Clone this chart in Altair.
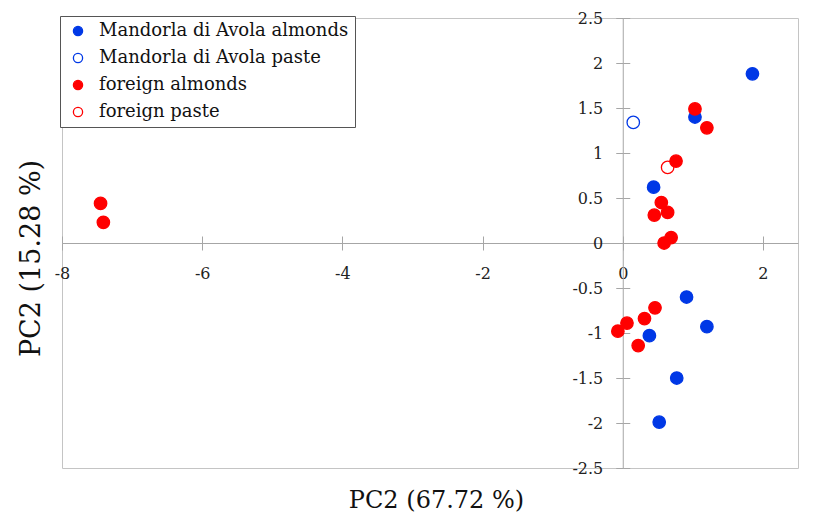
import altair as alt
import pandas as pd

groups = ["Mandorla di Avola almonds", "Mandorla di Avola paste", "foreign almonds", "foreign paste"]

# PC scores
ma_x = [1.85, 1.03, 0.44, 0.91, 1.20, 0.38, 0.77, 0.52]
ma_y = [1.88, 1.40, 0.62, -0.60, -0.93, -1.03, -1.50, -1.99]
mp_x = [0.15]
mp_y = [1.34]
fa_x = [1.03, 1.20, 0.76, 0.55, 0.45, 0.64, 0.59, 0.69, 0.46, 0.31, 0.06, -0.07, 0.22, -7.45, -7.41]
fa_y = [1.49, 1.28, 0.91, 0.45, 0.31, 0.34, 0.00, 0.06, -0.72, -0.84, -0.89, -0.98, -1.14, 0.44, 0.23]
fp_x = [0.64]
fp_y = [0.84]

x_ticks = [-8, -6, -4, -2, 0, 2]
y_ticks = [-2.5, -2, -1.5, -1, -0.5, 0, 0.5, 1, 1.5, 2, 2.5]

rows = []
for g, xs, ys in [(groups[1], mp_x, mp_y), (groups[3], fp_x, fp_y),
                  (groups[0], ma_x, ma_y), (groups[2], fa_x, fa_y)]:
    for x, y in zip(xs, ys):
        rows.append({"group": g, "pc1": x, "pc2": y})
df = pd.DataFrame(rows)

BLUE, RED = "#0038e6", "#ff0000"
AX = "#a6a6a6"
FONT = "DejaVu Serif"
W, H = 736, 450
XMIN, XMAX = -8, 2.5
x0 = (0 - XMIN) / (XMAX - XMIN) * W
LABEL = "'' + datum.value"

xscale = alt.Scale(domain=[XMIN, XMAX], nice=False, zero=False)
yscale = alt.Scale(domain=[-2.5, 2.5], nice=False, zero=False)

leg = alt.Legend(
    title=None, orient="none", legendX=-2, legendY=-2,
    symbolType="circle", symbolSize=85, symbolStrokeWidth=1.3, symbolOpacity=1,
    symbolOffset=3, labelOffset=12, labelFont=FONT, labelFontSize=18,
    labelColor="#111111", labelLimit=400, rowPadding=9, padding=6,
    strokeColor="#555555", fillColor="white",
)

points = alt.Chart(df).mark_circle(size=155, strokeWidth=1.3, opacity=1).encode(
    x=alt.X("pc1:Q", scale=xscale, axis=alt.Axis(
        orient="bottom", offset=-H / 2, values=x_ticks, tickSize=7, tickColor=AX,
        domainColor=AX, grid=False, labelFlush=False, labelFont=FONT, labelFontSize=16,
        labelColor="#222222", labelPadding=15, labelExpr=LABEL,
        title="PC2 (67.72 %)", titleFont=FONT, titleFontSize=24, titleFontWeight="normal",
        titleColor="#111111", titleX=374, titleY=264, titleAlign="center",
        titleBaseline="alphabetic")),
    y=alt.Y("pc2:Q", scale=yscale, axis=alt.Axis(
        orient="left", offset=-x0, values=y_ticks, tickSize=7, tickColor=AX,
        domainColor=AX, grid=False, labelFlush=False, labelFont=FONT, labelFontSize=16,
        labelColor="#222222", labelPadding=13, labelExpr=LABEL,
        title="PC2 (15.28 %)", titleFont=FONT, titleFontSize=27, titleFontWeight="normal",
        titleColor="#111111", titleX=39 - (62 + x0), titleY=240, titleAngle=-90,
        titleAlign="center", titleBaseline="alphabetic")),
    fill=alt.Fill("group:N", scale=alt.Scale(domain=groups, range=[BLUE, "transparent", RED, "transparent"]), legend=leg),
    stroke=alt.Stroke("group:N", scale=alt.Scale(domain=groups, range=[BLUE, BLUE, RED, RED]), legend=leg),
)

ticks = alt.Chart(df).mark_circle(opacity=0).encode(
    x=alt.X("pc1:Q", scale=xscale, title=None, axis=alt.Axis(
        orient="top", offset=-H / 2, values=x_ticks, tickSize=7, tickColor=AX,
        domain=False, labels=False, grid=False)),
    y=alt.Y("pc2:Q", scale=yscale, title=None, axis=alt.Axis(
        orient="right", offset=-(W - x0), values=y_ticks, tickSize=7, tickColor=AX,
        domain=False, labels=False, grid=False)),
)

chart = alt.layer(points, ticks).resolve_axis(x="independent", y="independent").properties(
    width=W, height=H,
    autosize=alt.AutoSizeParams(type="none"),
    padding={"left": 54, "top": 10, "right": 8, "bottom": 45},
).configure_view(stroke="#c4c4c4", strokeWidth=1)

chart.save("out.html", embed_options={"renderer": "svg", "actions": False})
